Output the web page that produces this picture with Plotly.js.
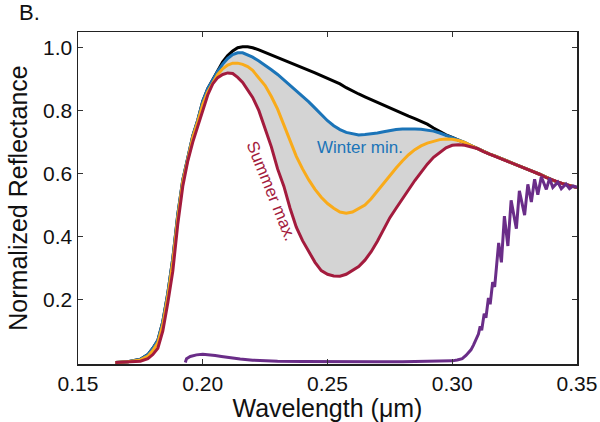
<!DOCTYPE html>
<html>
<head>
<meta charset="utf-8">
<script src="https://cdn.plot.ly/plotly-3.0.1.min.js"></script>
<style>html,body{margin:0;padding:0;background:#fff}#chart{width:600px;height:422px}</style>
</head>
<body>
<div id="chart"></div>
<script>
// Wavelength grid (µm) shared by the four reflectance spectra
const wl = [0.165,0.170,0.175,0.178,0.180,0.182,0.184,0.186,0.188,0.190,0.192,0.194,0.196,0.198,
  0.200,0.202,0.204,0.206,0.208,0.210,0.212,0.214,0.216,0.218,
  0.220,0.2225,0.225,0.2275,0.230,0.2325,0.235,0.2375,0.240,0.2425,
  0.245,0.2475,0.250,0.2525,0.255,0.2575,0.260,0.2625,0.265,0.2675,
  0.270,0.2725,0.275,0.2775,0.280,0.2825,0.285,0.2875,0.290,0.2925,
  0.295,0.2975,0.300,0.3025,0.305,0.3075,0.310,0.3125,0.315,0.3175,
  0.320,0.3225,0.325,0.3275,0.330,0.3325,0.335,0.3375,0.340,0.3425,
  0.345,0.3475,0.350];

// No-ozone reference spectrum (black)
const reflBlack = [0,0.002,0.01,0.025,0.045,0.07,0.13,0.22,0.33,0.47,0.58,0.65,0.72,0.77,
  0.83,0.87,0.90,0.93,0.955,0.975,0.99,1.0,1.003,1.003,
  1.0,0.993,0.985,0.977,0.969,0.961,0.953,0.946,0.938,0.929,
  0.920,0.911,0.903,0.894,0.885,0.873,0.862,0.853,0.844,0.835,
  0.826,0.818,0.810,0.799,0.791,0.783,0.775,0.766,0.757,0.745,
  0.733,0.723,0.715,0.707,0.699,0.689,0.680,0.670,0.662,0.655,
  0.646,0.638,0.630,0.622,0.615,0.606,0.598,0.588,0.580,0.572,
  0.566,0.561,0.556];

// Winter minimum (blue)
const reflWinter = [0,0.002,0.01,0.025,0.045,0.07,0.13,0.22,0.33,0.47,0.58,0.65,0.72,0.77,
  0.83,0.87,0.90,0.925,0.948,0.966,0.978,0.984,0.984,0.978,
  0.970,0.958,0.945,0.930,0.915,0.898,0.880,0.864,0.848,0.828,
  0.808,0.787,0.768,0.752,0.740,0.731,0.726,0.723,0.724,0.726,
  0.729,0.733,0.737,0.740,0.742,0.743,0.742,0.741,0.739,0.735,
  0.729,0.722,0.714,0.707,0.699,0.689,0.680,0.670,0.662,0.655,
  0.646,0.638,0.630,0.622,0.615,0.606,0.598,0.588,0.580,0.572,
  0.566,0.561,0.556];

// Intermediate spectrum (orange)
const reflMid = [0,0.002,0.008,0.02,0.038,0.062,0.12,0.21,0.32,0.46,0.575,0.645,0.715,0.765,
  0.82,0.86,0.89,0.915,0.933,0.945,0.951,0.951,0.947,0.940,
  0.928,0.905,0.880,0.845,0.805,0.755,0.705,0.655,0.615,0.580,
  0.550,0.525,0.505,0.490,0.478,0.474,0.478,0.488,0.500,0.520,
  0.545,0.568,0.592,0.618,0.640,0.660,0.676,0.688,0.697,0.703,
  0.708,0.710,0.709,0.705,0.699,0.689,0.680,0.670,0.662,0.655,
  0.646,0.638,0.630,0.622,0.615,0.606,0.598,0.588,0.580,0.572,
  0.566,0.561,0.556];

// Summer maximum (red)
const reflSummer = [0,0.001,0.004,0.012,0.025,0.045,0.10,0.19,0.29,0.44,0.56,0.64,0.70,0.75,
  0.80,0.85,0.885,0.905,0.915,0.920,0.918,0.906,0.890,0.868,
  0.842,0.800,0.745,0.685,0.615,0.560,0.490,0.430,0.387,0.352,
  0.318,0.292,0.280,0.275,0.274,0.280,0.292,0.305,0.325,0.352,
  0.385,0.425,0.460,0.490,0.520,0.550,0.578,0.604,0.630,0.652,
  0.668,0.682,0.690,0.692,0.690,0.686,0.680,0.670,0.662,0.655,
  0.646,0.638,0.630,0.622,0.615,0.606,0.598,0.588,0.580,0.572,
  0.566,0.561,0.556];

// Purple spectrum (own wavelength grid)
const wlPurple = [0.193,0.1935,0.195,0.1975,0.200,0.2025,0.205,0.2075,0.210,0.215,0.220,0.225,0.230,
  0.240,0.250,0.260,0.270,0.280,0.290,0.295,0.300,0.302,0.304,0.3055,0.3065,0.3075,0.3085,0.3095,
  0.3105,0.3112,0.3118,0.3128,0.3135,0.3145,0.3152,0.3162,0.3170,0.3178,0.3186,0.3197,0.3209,
  0.3223,0.3236,0.3257,0.3269,0.3290,0.3303,0.3317,0.3330,0.3343,0.3357,0.3377,0.3390,0.3403,
  0.3423,0.3437,0.3456,0.3470,0.3485,0.350];
const reflPurple = [0,0.012,0.019,0.024,0.026,0.025,0.022,0.019,0.016,0.011,0.007,0.005,0.004,
  0.003,0.002,0.002,0.002,0.002,0.003,0.004,0.005,0.008,0.012,0.022,0.03,0.04,0.055,0.07,
  0.09,0.115,0.102,0.155,0.142,0.205,0.185,0.255,0.24,0.31,0.38,0.318,0.465,
  0.370,0.515,0.425,0.545,0.468,0.566,0.510,0.582,0.533,0.590,0.550,0.585,0.556,
  0.573,0.552,0.567,0.552,0.561,0.556];

const xTicks = [0.15,0.20,0.25,0.30,0.35];
const xTickText = ['0.15','0.20','0.25','0.30','0.35'];
const yTicks = [0.2,0.4,0.6,0.8,1.0];
const yTickText = ['0.2','0.4','0.6','0.8','1.0'];

// Shaded band between winter minimum and summer maximum
const bandIdx = wl.map((x,i)=>i).filter(i => wl[i] >= 0.198 && wl[i] <= 0.310);
const bandX = bandIdx.map(i=>wl[i]).concat(bandIdx.slice().reverse().map(i=>wl[i]));
const bandY = bandIdx.map(i=>reflWinter[i]).concat(bandIdx.slice().reverse().map(i=>reflSummer[i]));

const F = 'Liberation Sans, Arial, Helvetica, sans-serif';
const lw = 3;
const traces = [
  {x: bandX, y: bandY, mode:'lines', fill:'toself', fillcolor:'#d4d4d4', line:{width:0, color:'rgba(0,0,0,0)'}, hoverinfo:'skip'},
  {x: wl, y: reflBlack, mode:'lines', line:{color:'#000000', width:lw}},
  {x: wl, y: reflWinter, mode:'lines', line:{color:'#1b74b8', width:lw}},
  {x: wl, y: reflMid, mode:'lines', line:{color:'#f9ab1a', width:lw}},
  {x: wl, y: reflSummer, mode:'lines', line:{color:'#a31b3d', width:lw}},
  {x: wlPurple, y: reflPurple, mode:'lines', line:{color:'#6a2d88', width:lw}}
];

const axisCommon = {
  showgrid:false, zeroline:false, showline:true, linecolor:'#222', linewidth:1.5,
  mirror:'ticks', ticks:'inside', ticklen:5, tickwidth:1, tickcolor:'#333',
  tickfont:{family:F, size:21, color:'#111'}, automargin:false
};

const layout = {
  width:600, height:422,
  margin:{l:78, r:23, t:32, b:58},
  paper_bgcolor:'#fff', plot_bgcolor:'#fff',
  showlegend:false,
  font:{family:F, color:'#111'},
  xaxis: Object.assign({}, axisCommon, {range:[0.15,0.35], tickmode:'array', tickvals:xTicks, ticktext:xTickText,
    title:{text:'Wavelength (μm)', font:{family:F, size:25, color:'#111'}, standoff:7}}),
  yaxis: Object.assign({}, axisCommon, {range:[-0.005,1.05], tickmode:'array', tickvals:yTicks, ticktext:yTickText,
    title:{text:'Normalized Reflectance', font:{family:F, size:25, color:'#111'}, standoff:8}}),
  annotations:[
    {x:-0.122, y:1.058, xref:'paper', yref:'paper', text:'B.', showarrow:false, font:{family:F, size:22, color:'#111'}, xanchor:'left', yanchor:'middle'},
    {x:0.2629, y:0.683, xref:'x', yref:'y', text:'Winter min.', showarrow:false, font:{family:F, size:17, color:'#1b74b8'}, xanchor:'center', yanchor:'middle'},
    {x:0.2275, y:0.543, xref:'x', yref:'y', text:'Summer max.', showarrow:false, textangle:68, font:{family:F, size:17, color:'#a31b3d'}, xanchor:'center', yanchor:'middle'}
  ]
};

Plotly.newPlot('chart', traces, layout, {displayModeBar:false, staticPlot:true});
</script>
</body>
</html>
